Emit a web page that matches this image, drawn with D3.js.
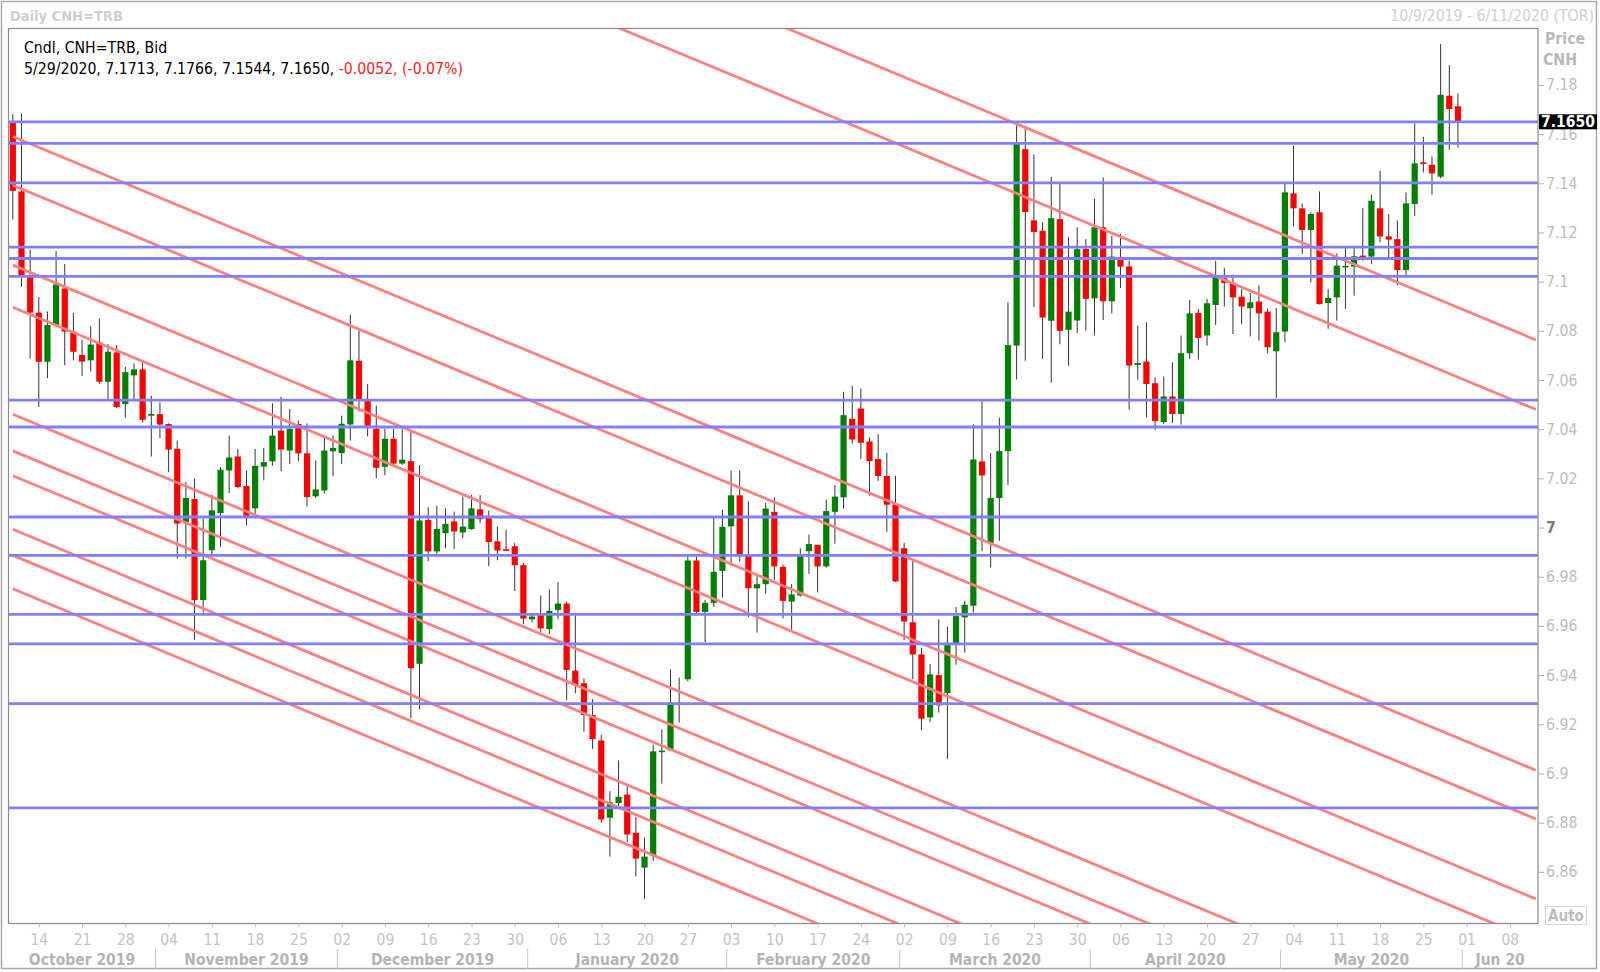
<!DOCTYPE html>
<html><head><meta charset="utf-8">
<script src="https://cdn.jsdelivr.net/npm/d3@7"></script>
<style>body{margin:0;background:#fff}svg{display:block}</style>
</head><body><svg id="c" width="1600" height="972"></svg>
<script>
// ---------------- DATA ----------------
const symbol = "CNH=TRB";
const firstDay = "2019-10-09", lastDay = "2020-06-11";
const opens = [
7.1646,7.1367,7.1024,7.0874,7.0674,7.0824,7.0972,7.0797,7.0702,7.0680,
7.0753,7.0593,7.0712,7.0502,7.0619,7.0643,7.0455,7.0461,7.0421,7.0320,
7.0023,7.0116,6.9705,6.9908,7.0059,7.0232,7.0289,7.0169,7.0078,7.0248,
7.0269,7.0394,7.0313,7.0421,7.0302,7.0127,7.0151,7.0310,7.0303,7.0419,
7.0678,7.0516,7.0402,7.0247,7.0361,7.0260,7.0270,6.9446,7.0031,6.9903,
6.9977,7.0025,6.9980,6.9994,7.0074,7.0038,6.9944,6.9912,6.9924,6.9847,
6.9627,6.9648,6.9587,6.9665,6.9691,6.9418,6.9367,6.9238,6.9134,6.8820,
6.8880,6.8914,6.8759,6.8617,6.8667,6.9087,6.9094,6.9286,6.9383,6.9866,
6.9657,6.9694,6.9824,7.0005,7.0131,6.9891,6.9753,6.9770,7.0064,6.9840,
6.9699,6.9724,6.9904,6.9930,6.9842,7.0064,7.0123,7.0442,7.0484,7.0350,
7.0279,7.0210,7.0093,6.9916,6.9615,6.9484,6.9228,6.9400,6.9327,6.9522,
6.9635,6.9682,7.0269,6.9938,7.0120,7.0311,7.0740,7.1539,7.1249,7.1207,
7.0841,7.1254,7.0804,7.0842,7.1133,7.0932,7.1221,7.0920,7.1088,7.1062,
7.0661,7.0675,7.0587,7.0429,7.0533,7.0462,7.0709,7.0873,7.0781,7.0905,
7.1014,7.0995,7.0939,7.0892,7.0919,7.0878,7.0717,7.0797,7.1359,7.1298,
7.1210,7.1282,7.0913,7.0936,7.1058,7.1061,7.1106,7.1102,7.1298,7.1184,
7.1173,7.1047,7.1316,7.1485,7.1475,7.1427,7.1756,7.1713];
const highs = [
7.1681,7.1684,7.1130,7.0938,7.0879,7.1124,7.1072,7.0874,7.0764,7.0819,
7.0849,7.0746,7.0742,7.0653,7.0668,7.0682,7.0536,7.0509,7.0424,7.0354,
7.0185,7.0198,7.0036,7.0133,7.0246,7.0374,7.0320,7.0232,7.0320,7.0324,
7.0505,7.0532,7.0482,7.0435,7.0424,7.0273,7.0374,7.0374,7.0455,7.0866,
7.0802,7.0583,7.0496,7.0402,7.0402,7.0402,7.0388,7.0254,7.0083,7.0089,
7.0078,7.0065,7.0126,7.0132,7.0132,7.0069,7.0004,6.9991,6.9937,6.9856,
6.9648,6.9724,6.9749,6.9778,6.9697,6.9643,6.9387,6.9302,6.9157,6.8928,
6.9053,6.8948,6.8823,6.8739,6.9117,6.9180,6.9423,6.9390,6.9887,6.9882,
6.9706,7.0039,7.0072,7.0232,7.0232,7.0106,6.9803,7.0100,7.0123,6.9849,
6.9770,6.9916,6.9971,6.9930,7.0114,7.0173,7.0552,7.0577,7.0565,7.0367,
7.0380,7.0303,7.0210,6.9938,6.9870,6.9510,6.9445,6.9627,6.9597,6.9677,
6.9702,7.0420,7.0513,7.0303,7.0447,7.0916,7.1636,7.1628,7.1518,7.1241,
7.1426,7.1397,7.1182,7.1221,7.1173,7.1336,7.1424,7.1187,7.1194,7.1085,
7.0821,7.0835,7.0611,7.0614,7.0672,7.0781,7.0926,7.0889,7.0930,7.1085,
7.1056,7.1029,7.0970,7.0954,7.0984,7.0889,7.0892,7.1397,7.1553,7.1318,
7.1282,7.1367,7.0970,7.1115,7.1137,7.1146,7.1299,7.1354,7.1451,7.1275,
7.1248,7.1363,7.1643,7.1589,7.1509,7.1966,7.1880,7.1766];
const lows = [
7.1253,7.0979,7.0687,7.0490,7.0608,7.0815,7.0660,7.0680,7.0616,7.0635,
7.0585,7.0516,7.0486,7.0446,7.0523,7.0428,7.0289,7.0363,7.0225,6.9874,
6.9874,6.9543,6.9654,6.9887,6.9921,7.0140,7.0160,7.0009,7.0050,7.0192,
7.0252,7.0229,7.0259,7.0270,7.0086,7.0120,7.0138,7.0209,7.0258,7.0354,
7.0473,7.0371,7.0200,7.0213,7.0250,7.0255,6.9224,6.9261,6.9863,6.9890,
6.9917,6.9913,6.9957,6.9991,7.0018,6.9843,6.9867,6.9907,6.9742,6.9607,
6.9614,6.9574,6.9567,6.9627,6.9298,6.9326,6.9170,6.9100,6.8800,6.8662,
6.8867,6.8721,6.8581,6.8489,6.8644,6.8959,6.9094,6.9207,6.9375,6.9650,
6.9534,6.9677,6.9716,6.9845,6.9862,6.9635,6.9573,6.9731,6.9786,6.9630,
6.9585,6.9719,6.9812,6.9736,6.9837,6.9934,7.0077,7.0341,7.0279,7.0131,
7.0190,6.9983,6.9778,6.9543,6.9383,6.9176,6.9210,6.9248,6.9058,6.9442,
6.9492,6.9655,6.9904,6.9837,6.9946,7.0173,7.0602,7.0678,7.0896,7.0686,
7.0589,7.0745,7.0658,7.0790,7.0801,7.0781,7.0844,7.0871,7.0974,7.0479,
7.0601,7.0449,7.0397,7.0422,7.0425,7.0419,7.0686,7.0682,7.0740,7.0824,
7.0899,7.0787,7.0828,7.0777,7.0760,7.0709,7.0526,7.0754,7.1224,7.1113,
7.0997,7.0907,7.0808,7.0842,7.0889,7.0943,7.1085,7.1072,7.1160,7.1092,
7.0984,7.1024,7.1266,7.1444,7.1354,7.1421,7.1536,7.1544];
const closes = [
7.1369,7.1027,7.0874,7.0674,7.0824,7.0989,7.0797,7.0715,7.0675,7.0744,
7.0593,7.0715,7.0490,7.0632,7.0643,7.0438,7.0462,7.0419,7.0317,7.0016,
7.0120,6.9705,6.9867,7.0070,7.0235,7.0285,7.0165,7.0047,7.0251,7.0266,
7.0374,7.0317,7.0401,7.0302,7.0124,7.0155,7.0313,7.0324,7.0422,7.0680,
7.0519,7.0414,7.0243,7.0361,7.0260,7.0276,6.9428,7.0029,6.9903,6.9994,
7.0015,6.9984,7.0004,7.0078,7.0034,6.9941,6.9907,6.9910,6.9847,6.9630,
6.9638,6.9590,6.9661,6.9691,6.9421,6.9360,6.9238,6.9140,6.8813,6.8883,
6.8905,6.8752,6.8654,6.8662,6.9090,6.9093,6.9288,6.9288,6.9866,6.9657,
6.9694,6.9820,7.0003,7.0131,6.9891,6.9753,6.9770,7.0077,6.9842,6.9702,
6.9728,6.9887,6.9933,6.9842,7.0067,7.0126,7.0457,7.0358,7.0345,7.0270,
7.0210,7.0093,6.9781,6.9618,6.9484,6.9223,6.9403,6.9277,6.9522,6.9640,
6.9686,7.0277,7.0212,7.0120,7.0311,7.0742,7.1564,7.1283,7.1202,7.0854,
7.1258,7.0800,7.0878,7.1132,7.0930,7.1221,7.0920,7.1102,7.1061,7.0659,
7.0669,7.0584,7.0433,7.0533,7.0462,7.0709,7.0871,7.0771,7.0912,7.1027,
7.0995,7.0936,7.0899,7.0916,7.0871,7.0733,7.0794,7.1363,7.1298,7.1210,
7.1275,7.0909,7.0934,7.1065,7.1064,7.1103,7.1099,7.1329,7.1184,7.1171,
7.1047,7.1318,7.1481,7.1478,7.1440,7.1760,7.1702,7.1650];
// horizontal support / resistance levels (blue)
const levels = [7.1650,7.1562,7.1402,7.1140,7.1094,7.1021,7.0518,7.0409,7.0043,6.9887,6.9647,6.9527,6.9284,6.8860];
// diagonal trend lines (red): price at first bar (index 0) and at bar 176 (Jun 11)
const trendFrom = [7.3340,7.3057,7.1590,7.1392,7.1067,7.0896,7.0461,7.0312,7.0211,6.9993,6.9887,6.9751];
const trendTo   = [7.0763,7.0480,6.9013,6.8815,6.8490,6.8319,6.7884,6.7735,6.7634,6.7416,6.7310,6.7174];
const yTicks = [6.86,6.88,6.90,6.92,6.94,6.96,6.98,7.00,7.02,7.04,7.06,7.08,7.10,7.12,7.14,7.16,7.18];
const yTickLabels = ["6.86","6.88","6.9","6.92","6.94","6.96","6.98","7","7.02","7.04","7.06","7.08","7.1","7.12","7.14","7.16","7.18"];
const monthLabels = ["October 2019","November 2019","December 2019","January 2020","February 2020","March 2020","April 2020","May 2020","Jun 20"];

// ---------------- CHART ----------------
const svg = d3.select("#c");
const F = "'DejaVu Sans Condensed','DejaVu Sans',sans-serif";
const parse = d3.timeParse("%Y-%m-%d");
const dates = d3.timeDay.range(parse(firstDay), d3.timeDay.offset(parse(lastDay),1))
  .filter(d => d.getDay() > 0 && d.getDay() < 6);
const nBars = dates.length - 1;

const L = 8.5, R = 1538, T = 28.5, B = 923.5;
const x = d3.scaleLinear().domain([-0.5, nBars + 0.25]).range([L, R]);
const y = d3.scaleLinear().domain([6.839, 7.2033]).range([B, 27.6]);

svg.append("rect").attr("width",1600).attr("height",972).attr("fill","#fff");
// outer frame
svg.append("rect").attr("x",1.5).attr("y",1.5).attr("width",1595).attr("height",967)
  .attr("fill","none").attr("stroke","#a8a8a8").attr("stroke-width",1.5);

svg.append("defs").append("clipPath").attr("id","clip")
  .append("rect").attr("x",L).attr("y",T).attr("width",R-L).attr("height",B-T);

// header
svg.append("text").attr("x",10).attr("y",20.5).attr("font-family",F).attr("font-weight","bold")
  .attr("font-size",14.5).attr("fill","#cfcfcf").text("Daily " + symbol);
const fmtMDY = d => (d.getMonth()+1) + "/" + d.getDate() + "/" + d.getFullYear();
svg.append("text").attr("x",1594).attr("y",21).attr("text-anchor","end").attr("font-family",F)
  .attr("font-size",15.7).attr("fill","#cfcfcf")
  .text(fmtMDY(dates[0]) + " - " + fmtMDY(dates[nBars]) + " (TOR)");

// candles
const bars = opens.map((o,i) => ({i, o, h:highs[i], l:lows[i], c:closes[i]}));
const plot = svg.append("g").attr("clip-path","url(#clip)");
plot.selectAll("line.wick").data(bars).join("line").attr("class","wick")
  .attr("x1",d=>x(d.i)).attr("x2",d=>x(d.i)).attr("y1",d=>y(d.h)).attr("y2",d=>y(d.l))
  .attr("stroke","#333").attr("stroke-width",1);
plot.selectAll("rect.body").data(bars).join("rect").attr("class","body")
  .attr("x",d=>x(d.i)-3.1).attr("width",6.2)
  .attr("y",d=>y(Math.max(d.o,d.c)))
  .attr("height",d=>Math.max(1.6, Math.abs(y(d.o)-y(d.c))))
  .attr("fill",d=>d.c>=d.o ? "#008000" : "#ff0000");

// trend lines
plot.selectAll("line.trend").data(trendFrom).join("line").attr("class","trend")
  .attr("x1",x(0)).attr("x2",x(nBars)).attr("y1",d=>y(d)).attr("y2",(d,i)=>y(trendTo[i]))
  .attr("stroke","#ff8080").attr("stroke-width",2.8);
// horizontal levels
plot.selectAll("line.level").data(levels).join("line").attr("class","level")
  .attr("x1",L).attr("x2",R).attr("y1",d=>y(d)).attr("y2",d=>y(d))
  .attr("stroke","#8080ff").attr("stroke-width",2.8);

// plot frame
svg.append("rect").attr("x",L).attr("y",T).attr("width",R-L).attr("height",B-T)
  .attr("fill","none").attr("stroke","#8a8a8a").attr("stroke-width",1.2);

// legend
const last = bars[bars.length-1], prev = bars[bars.length-2];
const chg = last.c - prev.c;
const hy = s => s.replace(/\u2212/g, "-");
const f4 = v => hy(d3.format(".4f")(v));
svg.append("text").attr("x",24).attr("y",52.5).attr("font-family",F).attr("font-size",15.7)
  .attr("fill","#000").text("Cndl, " + symbol + ", Bid");
const lg = svg.append("text").attr("x",24).attr("y",73.5).attr("font-family",F)
  .attr("font-size",15.7).attr("fill","#000");
lg.append("tspan").text(fmtMDY(dates[last.i]) + ", " + [last.o,last.h,last.l,last.c].map(f4).join(", ") + ", ");
lg.append("tspan").attr("fill","#ff2020")
  .text(f4(chg) + ", (" + hy(d3.format(".2f")(chg/prev.c*100)) + "%)");

// y axis
const yAxis = d3.axisRight(y).tickValues(yTicks).tickSize(6).tickPadding(2)
  .tickFormat((d,i)=>yTickLabels[i]);
const ya = svg.append("g").attr("transform",`translate(${R},0)`).call(yAxis);
ya.select(".domain").remove();
ya.selectAll(".tick line").attr("stroke","#b0b0b0");
ya.selectAll(".tick text").attr("font-family",F).attr("font-size",15.7)
  .attr("font-weight",(d,i)=>yTickLabels[i]==="7"?"bold":"normal")
  .attr("fill",(d,i)=>yTickLabels[i]==="7"?"#7a7a7a":"#bcbcbc");

svg.append("text").attr("x",1545).attr("y",44).attr("font-family",F).attr("font-weight","bold")
  .attr("font-size",15.7).attr("fill","#b8b8b8").text("Price");
svg.append("text").attr("x",1543).attr("y",65).attr("font-family",F).attr("font-weight","bold")
  .attr("font-size",15.7).attr("fill","#b8b8b8").text("CNH");

// last price tag (covers the top of the neighbouring tick label, as in the source)
const yl = y(last.c);
svg.append("rect").attr("x",R+1).attr("y",yl-7.5).attr("width",58).attr("height",15).attr("fill","#000");
svg.append("text").attr("x",R+30).attr("y",yl+5.4).attr("text-anchor","middle").attr("font-family",F)
  .attr("font-weight","bold").attr("font-size",15.5).attr("fill","#fff").text(f4(last.c));

// Auto box
svg.append("rect").attr("x",1545.5).attr("y",906.5).attr("width",41).attr("height",18)
  .attr("fill","#fff").attr("stroke","#d8d8d8");
svg.append("text").attr("x",1566).attr("y",921).attr("text-anchor","middle").attr("font-family",F)
  .attr("font-weight","bold").attr("font-size",15).attr("fill","#bdbdbd").text("Auto");

// x axis: Monday ticks
const mondays = d3.range(dates.length).filter(i => dates[i].getDay() === 1);
const xAxis = d3.axisBottom(x).tickValues(mondays).tickSize(4).tickPadding(6)
  .tickFormat(i => d3.timeFormat("%d")(dates[i]));
const xa = svg.append("g").attr("transform",`translate(0,${B})`).call(xAxis);
xa.select(".domain").remove();
xa.selectAll(".tick line").attr("stroke","#c0c0c0");
xa.selectAll(".tick text").attr("font-family",F).attr("font-size",15.5).attr("fill","#c4c4c4");

// months
const monthStarts = d3.range(1, dates.length).filter(i => dates[i].getMonth() !== dates[i-1].getMonth());
const bounds = [L, ...monthStarts.map(i => x(i-0.5)), R];
svg.selectAll("line.msep").data(monthStarts).join("line").attr("class","msep")
  .attr("x1",i=>x(i-0.5)).attr("x2",i=>x(i-0.5)).attr("y1",949).attr("y2",969)
  .attr("stroke","#c8c8c8");
svg.selectAll("text.month").data(monthLabels).join("text").attr("class","month")
  .attr("x",(d,i)=>(bounds[i]+bounds[i+1])/2).attr("y",965).attr("text-anchor","middle")
  .attr("font-family",F).attr("font-weight","bold").attr("font-size",15.5).attr("fill","#b4b4b4")
  .text(d=>d);
</script></body></html>
